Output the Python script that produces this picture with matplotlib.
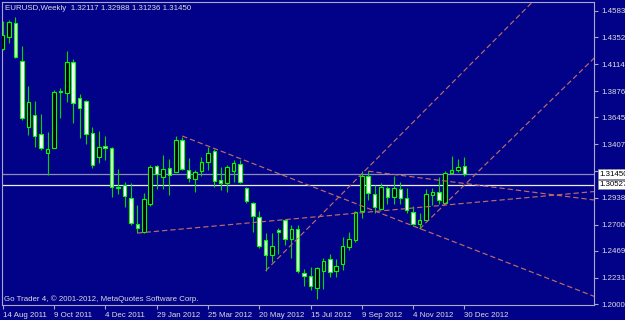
import matplotlib
matplotlib.use("Agg")
import matplotlib.pyplot as plt
import matplotlib.transforms as mtransforms
import numpy as np

plt.rcParams['font.family'] = ['Liberation Sans', 'DejaVu Sans']

# EURUSD weekly bars, bar 0 = week of 14 Aug 2011
opens = [1.4247, 1.4350, 1.4474, 1.4141, 1.3557, 1.3665, 1.3498, 1.3333, 1.3377, 1.3878,
         1.3856, 1.4135, 1.3812, 1.3788, 1.3504, 1.3292, 1.3392, 1.3372, 1.3030, 1.3048,
         1.2931, 1.2702, 1.2637, 1.2881, 1.3216, 1.3116, 1.3196, 1.3166, 1.3445, 1.3181,
         1.3099, 1.3172, 1.3254, 1.3351, 1.3092, 1.3063, 1.3175, 1.3231, 1.3019, 1.2887,
         1.2769, 1.2564, 1.2432, 1.2652, 1.2740, 1.2570, 1.2665, 1.2270, 1.2245, 1.2140,
         1.2293, 1.2396, 1.2288, 1.2350, 1.2505, 1.2564, 1.2815, 1.3125, 1.2969, 1.2837,
         1.3019, 1.2945, 1.3010, 1.2931, 1.2813, 1.2705, 1.2740, 1.2960, 1.2990, 1.2887,
         1.3157, 1.3181, 1.32117]
highs = [1.4493, 1.4502, 1.4531, 1.4273, 1.3921, 1.3785, 1.3674, 1.3513, 1.3885, 1.3900,
         1.4229, 1.4156, 1.3848, 1.3797, 1.3557, 1.3527, 1.3480, 1.3384, 1.3189, 1.3077,
         1.3063, 1.2872, 1.2981, 1.3225, 1.3225, 1.3313, 1.3275, 1.3480, 1.3474, 1.3284,
         1.3181, 1.3293, 1.3381, 1.3363, 1.3204, 1.3225, 1.3269, 1.3269, 1.3033, 1.2901,
         1.2819, 1.2623, 1.2623, 1.2669, 1.2748, 1.2693, 1.2693, 1.2310, 1.2330, 1.2330,
         1.2405, 1.2443, 1.2400, 1.2587, 1.2637, 1.2817, 1.3170, 1.3170, 1.3050, 1.3070,
         1.3040, 1.3131, 1.3078, 1.3019, 1.2863, 1.2800, 1.3013, 1.3020, 1.3116, 1.3170,
         1.3304, 1.3275, 1.32988]
lows = [1.4238, 1.4299, 1.4167, 1.3621, 1.3489, 1.3380, 1.3357, 1.3136, 1.3374, 1.3636,
        1.3782, 1.3592, 1.3466, 1.3410, 1.3196, 1.3245, 1.3269, 1.2940, 1.2968, 1.2852,
        1.2696, 1.2623, 1.2628, 1.2866, 1.3011, 1.3011, 1.2960, 1.3159, 1.3181, 1.3078,
        1.2990, 1.3128, 1.3181, 1.3028, 1.3004, 1.2990, 1.3078, 1.3063, 1.2887, 1.2637,
        1.2491, 1.2293, 1.2373, 1.2440, 1.2520, 1.2406, 1.2270, 1.2160, 1.2125, 1.2042,
        1.2130, 1.2240, 1.2240, 1.2300, 1.2480, 1.2550, 1.2760, 1.2920, 1.2802, 1.2835,
        1.2880, 1.2880, 1.2880, 1.2800, 1.2700, 1.2661, 1.2740, 1.2875, 1.2877, 1.2880,
        1.3150, 1.3163, 1.31236]
closes = [1.4370, 1.4482, 1.4179, 1.3636, 1.3777, 1.3483, 1.3377, 1.3363, 1.3868, 1.3868,
          1.4129, 1.3768, 1.3729, 1.3495, 1.3225, 1.3386, 1.3374, 1.3033, 1.3025, 1.2951,
          1.2711, 1.2667, 1.2925, 1.3210, 1.3145, 1.3187, 1.3136, 1.3445, 1.3189, 1.3107,
          1.3166, 1.3254, 1.3328, 1.3086, 1.3063, 1.3210, 1.3246, 1.3072, 1.2907, 1.2778,
          1.2511, 1.2432, 1.2514, 1.2632, 1.2570, 1.2665, 1.2290, 1.2247, 1.2155, 1.2320,
          1.2379, 1.2285, 1.2335, 1.2511, 1.2570, 1.2814, 1.3125, 1.2980, 1.2852, 1.3028,
          1.2945, 1.3019, 1.2931, 1.2828, 1.2705, 1.2740, 1.2969, 1.2984, 1.2916, 1.3157,
          1.3181, 1.3204, 1.31450]

tick_bars = [0, 8, 16, 24, 32, 40, 48, 56, 64, 72]
tick_dates = ["14 Aug 2011", "9 Oct 2011", "4 Dec 2011", "29 Jan 2012", "25 Mar 2012",
              "20 May 2012", "15 Jul 2012", "9 Sep 2012", "4 Nov 2012", "30 Dec 2012"]

price_ticks = [1.45830, 1.43520, 1.41140, 1.38760, 1.36450, 1.34070,
               1.31690, 1.29380, 1.27000, 1.24690, 1.22310, 1.20000]

bid_price = 1.31450
hline_price = 1.30527

# trend lines as two anchors (bar, price), extended to the right edge
trend_bars = [(28, 72), (57, 72), (21, 72), (41, 72), (65, 72)]
trend_prices = [(1.3480, 1.2512), (1.3170, 1.3062), (1.2625, 1.2887),
                (1.2293, 1.4057), (1.2661, 1.3048)]

bg = '#020288'
frame = '#a8a8c8'
txt = '#dcdcdc'
green = '#00ff00'

fig = plt.figure(figsize=(6.25, 3.2), dpi=100, facecolor=bg)
ax = fig.add_axes([2 / 625, 15 / 320, 592 / 625, 303 / 320])
ax.set_facecolor(bg)

x_right = 92.2
ax.set_xlim(-0.1, x_right)
ax.set_ylim(1.19912, 1.46606)

o = np.array(opens)
h = np.array(highs)
l = np.array(lows)
c = np.array(closes)
x = np.arange(len(o))
up = c >= o

# bid line + user horizontal line
ax.axhline(bid_price, color='#8c8cb8', lw=0.9, zorder=1)
ax.axhline(hline_price, color='#ececf4', lw=0.9, zorder=1)

# candles
ax.vlines(x, l, h, color='#00d800', lw=0.8, zorder=2)
ax.bar(x, np.maximum(np.abs(c - o), 0.0002), bottom=np.minimum(o, c), width=0.55,
       color=np.where(up, 'black', 'white'), edgecolor=green, linewidth=0.8, zorder=3)

# trend lines (rays)
for (b0, b1), (p0, p1) in zip(trend_bars, trend_prices):
    slope = (p1 - p0) / (b1 - b0)
    ax.plot([b0, x_right + 1], [p0, p0 + slope * (x_right + 1 - b0)],
            color='#bc6c66', lw=0.85, dashes=(4.5, 2.5), zorder=4)

for s in ax.spines.values():
    s.set_color(frame)
    s.set_linewidth(0.8)

ax.yaxis.tick_right()
ax.set_yticks(price_ticks)
ax.set_yticklabels([f"{p:.5f}" for p in price_ticks])
ax.set_xticks(tick_bars)
ax.set_xticklabels(tick_dates)
for lab in ax.get_xticklabels():
    lab.set_ha('left')
ax.tick_params(axis='both', colors=frame, labelcolor=txt, length=3, width=0.8,
               labelsize=5.7, pad=2)

blend = mtransforms.blended_transform_factory(ax.transAxes, ax.transData)
for val in [bid_price, hline_price]:
    ax.text(1.0 + 5 / 592, val, f"{val:.5f}", transform=blend, ha='left', va='center',
            fontsize=5.7, color='black', zorder=10, clip_on=False,
            bbox=dict(boxstyle='square,pad=0.15', fc='white', ec='#909090', lw=0.5))

ax.text(0.005, 0.99, "EURUSD,Weekly  1.32117 1.32988 1.31236 1.31450",
        transform=ax.transAxes, ha='left', va='top', fontsize=5.7, color=txt)
ax.text(0.004, 0.012, "Go Trader 4, \u00a9 2001-2012, MetaQuotes Software Corp.",
        transform=ax.transAxes, ha='left', va='baseline', fontsize=5.7, color=txt)

fig.savefig("out.png", dpi=100, facecolor=bg)
